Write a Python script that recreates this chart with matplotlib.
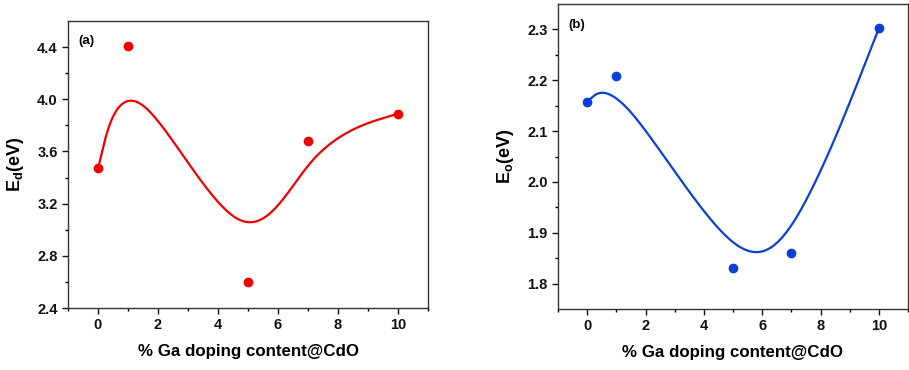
import numpy as np
import matplotlib.pyplot as plt

plt.rcParams['font.family'] = ['Liberation Sans', 'DejaVu Sans']
plt.rcParams['font.weight'] = 'bold'

# data
ga = [0, 1, 5, 7, 10]
ed = [3.47, 4.41, 2.60, 3.68, 3.89]
eo = [2.158, 2.208, 1.831, 1.861, 2.302]


def bspline(xs, ys, n=60):
    # uniform cubic B-spline, end points tripled so the curve hits them
    p = np.column_stack([xs, ys]).astype(float)
    q = np.vstack([p[:1], p[:1], p, p[-1:], p[-1:]])
    t = np.linspace(0, 1, n)[:, None]
    b0 = (1 - t) ** 3 / 6
    b1 = (3 * t ** 3 - 6 * t ** 2 + 4) / 6
    b2 = (-3 * t ** 3 + 3 * t ** 2 + 3 * t + 1) / 6
    b3 = t ** 3 / 6
    segs = [b0 * q[i] + b1 * q[i + 1] + b2 * q[i + 2] + b3 * q[i + 3]
            for i in range(len(q) - 3)]
    c = np.vstack(segs)
    return c[:, 0], c[:, 1]


fig = plt.figure(figsize=(9.09, 3.70), dpi=100)
W, H = 909, 370
ax1 = fig.add_axes([68 / W, 1 - 308 / H, 360 / W, 287 / H])
ax2 = fig.add_axes([558 / W, 1 - 309 / H, 350 / W, 305 / H])

panels = [
    (ax1, ed, '#f20000', (2.4, 4.6), np.arange(2.4, 4.41, 0.4), 'E$_\\mathregular{d}$(eV)', '(a)', 11),
    (ax2, eo, '#0a3fd8', (1.75, 2.35), np.arange(1.8, 2.31, 0.1), 'E$_\\mathregular{o}$(eV)', '(b)', 10.65),
]

for ax, vals, col, ylim, yt, ylab, tag, xr in panels:
    cx, cy = bspline(ga, vals)
    ax.plot(cx, cy, color=col, lw=1.6)
    ax.plot(ga, vals, 'o', color=col, ms=6)
    ax.set_xlim(-1, xr)
    ax.set_ylim(*ylim)
    ax.set_xticks([0, 2, 4, 6, 8, 10])
    ax.set_xticks([-1, 1, 3, 5, 7, 9, 11], minor=True)
    ax.set_yticks(yt)
    ax.set_yticks(yt[:-1] + (yt[1] - yt[0]) / 2, minor=True)
    ax.set_yticklabels(['%.1f' % v for v in yt])
    ax.tick_params(direction='out', length=4, width=1, labelsize=10.5, colors='#111111')
    ax.tick_params(which='minor', direction='out', length=2.5, width=1)
    for s in ax.spines.values():
        s.set_color('#333333')
        s.set_linewidth(1)
    ax.set_xlabel('% Ga doping content@CdO', fontsize=12.2, fontweight='bold', labelpad=8)
    ax.set_ylabel(ylab, fontsize=13, fontweight='bold', labelpad=8)
    ax.text(0.03, 0.93, tag, transform=ax.transAxes, fontsize=9.5, fontweight='bold', va='center')

fig.savefig('out.png', dpi=100)
